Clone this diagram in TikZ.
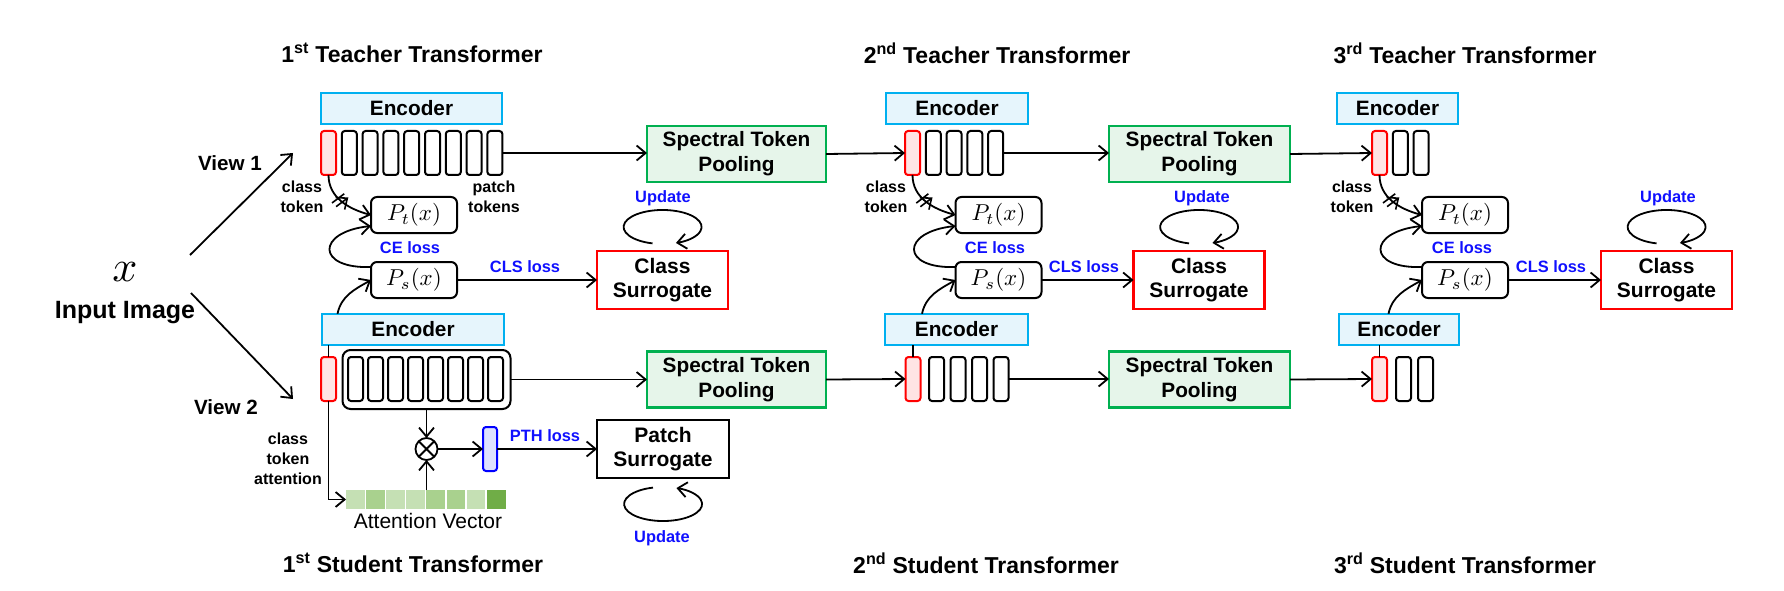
\documentclass[tikz,border=0pt]{standalone}
\usepackage[no-math]{fontspec}
\setmainfont{Liberation Sans}
\usetikzlibrary{arrows.meta,decorations.markings,calc}
\definecolor{encfill}{RGB}{230,245,252}
\definecolor{encdraw}{RGB}{0,176,240}
\definecolor{spfill}{RGB}{230,245,234}
\definecolor{spdraw}{RGB}{0,176,80}
\definecolor{ctfill}{RGB}{255,228,228}
\definecolor{ctdraw}{RGB}{255,0,0}
\definecolor{btfill}{RGB}{222,226,255}
\definecolor{btdraw}{RGB}{0,0,255}
\definecolor{lblue}{RGB}{16,16,255}
\definecolor{avA}{RGB}{197,224,180}
\definecolor{avB}{RGB}{169,209,142}
\definecolor{avC}{RGB}{112,173,71}
\newcommand{\bigmath}[2]{\scalebox{#1}{$#2$}}
\tikzset{
  every node/.style={inner sep=0pt, outer sep=0pt},
  conn/.style={line width=1.8pt, black},
  arr/.style={conn, -{Straight Barb[length=9pt,width=15pt]}},
  enc/.style={draw=encdraw, fill=encfill, line width=2.2pt, minimum height=31.5pt, font=\fontsize{20.8}{24}\selectfont\bfseries},
  spbox/.style={draw=spdraw, fill=spfill, line width=2.2pt, minimum width=179pt, minimum height=56pt, align=center, font=\fontsize{20.8}{25}\selectfont\bfseries},
  surr/.style={draw=ctdraw, fill=white, line width=2.2pt, minimum width=131pt, minimum height=58pt, align=center, font=\fontsize{21}{24}\selectfont\bfseries},
  tok/.style={draw=black, fill=white, line width=2pt, rounded corners=3pt, minimum width=15pt, minimum height=44pt},
  ctok/.style={tok, draw=ctdraw, fill=ctfill},
  pbox/.style={draw=black, line width=2pt, rounded corners=6pt, minimum width=86pt, minimum height=36pt},
  ttl/.style={font=\fontsize{23}{27}\selectfont\bfseries},
  sml/.style={font=\fontsize{16}{20}\selectfont\bfseries, align=center},
  blbl/.style={font=\fontsize{16.4}{20}\selectfont\bfseries, text=lblue},
  avc/.style={minimum width=18.8pt, minimum height=19pt},
  cut/.style={postaction={decorate, decoration={markings, mark=at position #1 with {\draw[line width=1.6pt] (-4pt,-7.5pt) -- (-1pt,7.5pt) (1.5pt,-7.5pt) -- (4.5pt,7.5pt);}}}},
}
\begin{document}
\begin{tikzpicture}[x=1pt,y=1pt]
\useasboundingbox (0,0) rectangle (1784,590);
% titles
\node[ttl] (tT1) at (412,537) {1\textsuperscript{st} Teacher Transformer};
\node[ttl] (tT2) at (997,537) {2\textsuperscript{nd} Teacher Transformer};
\node[ttl] (tT3) at (1465,537) {3\textsuperscript{rd} Teacher Transformer};
\node[ttl] (tS1) at (413,27) {1\textsuperscript{st} Student Transformer};
\node[ttl] (tS2) at (986,27) {2\textsuperscript{nd} Student Transformer};
\node[ttl] (tS3) at (1465,27) {3\textsuperscript{rd} Student Transformer};
% input
\node (xin) at (125,318) {\bigmath{4.4}{x}};
\node[font=\fontsize{25}{30}\selectfont\bfseries] (inp) at (125,277) {Input Image};
\node[font=\fontsize{20.6}{24}\selectfont\bfseries] (v1) at (230,427) {View 1};
\node[font=\fontsize{20.6}{24}\selectfont\bfseries] (v2) at (226,183) {View 2};
\coordinate (v1s) at (190,335); \coordinate (v1e) at (293,437);
\coordinate (v2s) at (191,297); \coordinate (v2e) at (293,191);
\draw[arr] (v1s) -- (v1e);
\draw[arr] (v2s) -- (v2e);
% encoders
\node[enc, minimum width=181pt] (eT1) at (411.5,481.5) {Encoder};
\node[enc, minimum width=142pt] (eT2) at (957,481.5) {Encoder};
\node[enc, minimum width=121pt] (eT3) at (1397.5,481.5) {Encoder};
\node[enc, minimum width=182pt] (eS1) at (413,260.5) {Encoder};
\node[enc, minimum width=143pt] (eS2) at (956.5,260.5) {Encoder};
\node[enc, minimum width=120pt] (eS3) at (1399,260.5) {Encoder};
% teacher tokens
\node[ctok] (cT1) at (328.5,437) {};
\foreach \i in {1,...,8} \node[tok] (pT1-\i) at (328.5+\i*20.8,437) {};
\node[ctok] (cT2) at (912.5,437) {};
\foreach \i in {1,...,4} \node[tok] (pT2-\i) at (912.5+\i*20.8,437) {};
\node[ctok] (cT3) at (1379.5,437) {};
\foreach \i in {1,2} \node[tok] (pT3-\i) at (1379.5+\i*20.8,437) {};
% student tokens
\node[ctok] (cS1) at (328.5,211) {};
\node[draw, line width=2pt, rounded corners=8pt, minimum width=168pt, minimum height=59pt] (rS1) at (426.5,210.5) {};
\foreach \i in {1,...,8} \node[tok] (pS1-\i) at (335.5+\i*20,211) {};
\node[ctok] (cS2) at (913,211) {};
\foreach \i in {1,...,4} \node[tok] (pS2-\i) at (915+\i*21.5,211) {};
\node[ctok] (cS3) at (1379.5,211) {};
\foreach \i in {1,2} \node[tok] (pS3-\i) at (1381.5+\i*22,211) {};
% spectral token pooling
\node[spbox] (spT1) at (736.5,436) {Spectral Token\\Pooling};
\node[spbox, minimum width=181pt] (spT2) at (1199.5,436) {Spectral Token\\Pooling};
\node[spbox] (spS1) at (736.5,210.5) {Spectral Token\\Pooling};
\node[spbox, minimum width=181pt] (spS2) at (1199.5,210.5) {Spectral Token\\Pooling};
% P boxes
\node[pbox] (PtT1) at (414,375) {\bigmath{2.3}{P_t(x)}};
\node[pbox] (PsT1) at (414,310) {\bigmath{2.3}{P_s(x)}};
\node[pbox] (PtT2) at (998.5,375) {\bigmath{2.3}{P_t(x)}};
\node[pbox] (PsT2) at (998.5,310) {\bigmath{2.3}{P_s(x)}};
\node[pbox] (PtT3) at (1465,375) {\bigmath{2.3}{P_t(x)}};
\node[pbox] (PsT3) at (1465,310) {\bigmath{2.3}{P_s(x)}};
% surrogates
\node[surr] (csT1) at (662.5,310) {Class\\Surrogate};
\node[surr] (csT2) at (1199,310) {Class\\Surrogate};
\node[surr] (csT3) at (1666.5,310) {Class\\Surrogate};
\node[surr, draw=black, minimum width=132pt] (psS1) at (663,141) {Patch\\Surrogate};
% patch branch
\node[tok, draw=btdraw, fill=btfill, minimum width=14pt] (bS1) at (490,141) {};
\node[circle, draw, line width=1.8pt, minimum size=22pt] (otm) at (426.5,141) {};
\draw[conn] (otm.north west) -- (otm.south east) (otm.north east) -- (otm.south west);
\node[minimum width=161pt, minimum height=19pt] (av) at (426.5,90.5) {};
\foreach \c [count=\i from 0] in {avA,avB,avA,avA,avB,avB,avA,avC}
  \node[avc, fill=\c] (av-\i) at (355.4+\i*20.1,90.5) {};
% labels
\node[font=\fontsize{21}{25}\selectfont] (avl) at (428,69) {Attention Vector};
\node[sml] (lca) at (288,131) {class\\token\\attention};
\node[blbl] (lpth) at (545,154) {PTH loss};
\node[sml] (lcT1) at (302,393) {class\\token};
\node[sml] (lcT2) at (886,393) {class\\token};
\node[sml] (lcT3) at (1352,393) {class\\token};
\node[sml] (lpt) at (494,393) {patch\\tokens};
\node[blbl] (ceT1) at (410,342) {CE loss};
\node[blbl] (ceT2) at (995,342) {CE loss};
\node[blbl] (ceT3) at (1462,342) {CE loss};
\node[blbl] (clT1) at (525,323) {CLS loss};
\node[blbl] (clT2) at (1084,323) {CLS loss};
\node[blbl] (clT3) at (1551,323) {CLS loss};
\node[blbl] (uT1) at (663,392) {Update};
\node[blbl] (uT2) at (1202,392) {Update};
\node[blbl] (uT3) at (1668,392) {Update};
\node[blbl] (uS1) at (662,52) {Update};
% main flow arrows
\draw[arr] (pT1-8.east) -- (pT1-8.east -| spT1.west);
\draw[arr] (spT1.east) -- (cT2.west);
\draw[arr] (pT2-4.east) -- (pT2-4.east -| spT2.west);
\draw[arr] (spT2.east) -- (cT3.west);
\draw[arr] (rS1.east) -- (spS1.west);
\draw[arr] (spS1.east) -- (cS2.west);
\draw[arr] (pS2-4.east) -- (pS2-4.east -| spS2.west);
\draw[arr] (spS2.east) -- (cS3.west);
% class token -> Pt, CE loop, encoder -> Ps, Ps -> class surrogate
\foreach \k in {1,2,3} {
  \draw[arr, cut=0.45] (cT\k.south) to[out=-90,in=165] (PtT\k.west);
  \draw[arr] ([yshift=13pt]PsT\k.west) .. controls +(-55,-2) and +(-55,-6) .. ([yshift=-11pt]PtT\k.west);
  \draw[conn] (cS\k.north) -- (cS\k.north |- eS\k.south);
  \draw[arr] ($(cS\k.center |- eS\k.north)+(9,0)$) to[out=78,in=210] (PsT\k.west);
  \draw[arr] (PsT\k.east) -- (csT\k.west);
  \coordinate (lpT\k) at ($(csT\k.north)+(0,24)$);
  \draw[arr] ($(lpT\k)+(-10,-16.4)$) arc[start angle=-105, end angle=-430, x radius=39, y radius=17];
}
% patch branch arrows
\draw[arr] (cS1.south) |- (av.west);
\draw[arr] (rS1.south) -- (otm.north);
\draw[arr] (av.north) -- (otm.south);
\draw[arr] (otm.east) -- (bS1.west);
\draw[arr] (bS1.east) -- (psS1.west);
\coordinate (lpS1) at ($(psS1.south)+(0,-26)$);
\draw[arr] ($(lpS1)+(-10,16.4)$) arc[start angle=105, end angle=430, x radius=39, y radius=17];
\end{tikzpicture}
\end{document}
